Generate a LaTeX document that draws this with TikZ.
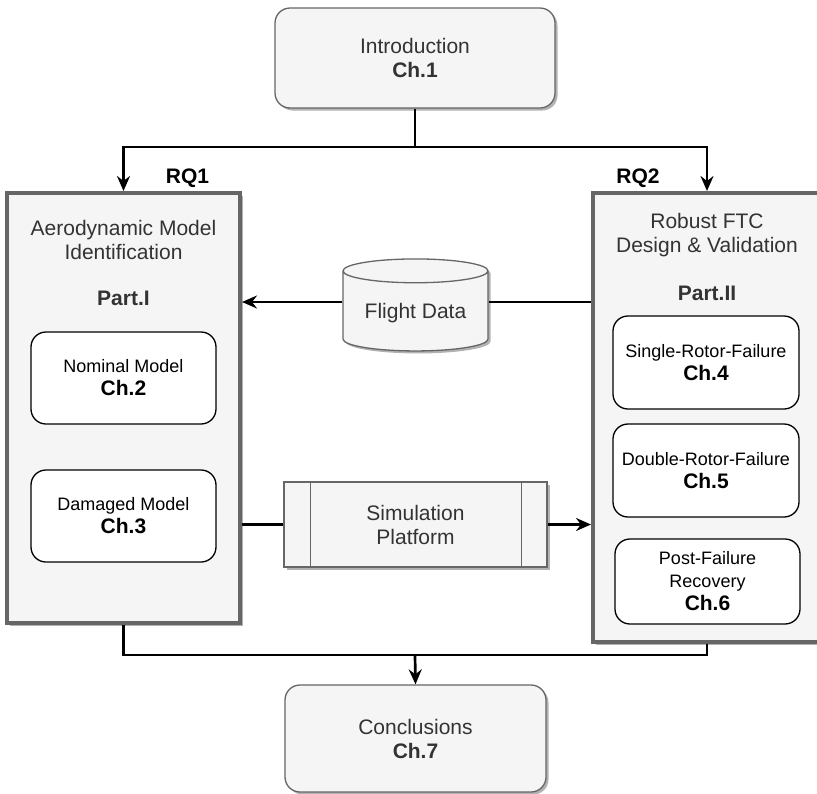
\documentclass[tikz,border=0pt]{standalone}
\usepackage{fontspec}
\setmainfont{Liberation Sans}
\usepackage{xcolor}
\usepackage{tikz}
\usetikzlibrary{shapes,shapes.geometric,arrows,arrows.meta,shadows}
\usetikzlibrary{calc}
\definecolor{boxfill}{HTML}{F5F5F5}
\definecolor{boxline}{HTML}{666666}
\definecolor{boxtext}{HTML}{333333}
\newcommand{\bigfont}{\fontsize{21}{24}\selectfont}
\newcommand{\smallfont}{\fontsize{18}{23}\selectfont}
\newcommand{\chapno}[1]{{\fontsize{21}{23}\selectfont\bfseries Ch.#1}}
\tikzset{
    boxshadow/.style={drop shadow={shadow xshift=2.5pt, shadow yshift=-2.5pt, opacity=0.3, fill=black}},
    chapbox/.style={draw=boxline, fill=boxfill, line width=1.3pt, rounded corners=15pt, align=center, text=boxtext, font=\bigfont, boxshadow},
    partbox/.style={draw=boxline, fill=boxfill, line width=4pt, boxshadow},
    subbox/.style={draw=black, fill=white, line width=1.3pt, rounded corners=15pt, align=center, font=\smallfont, minimum width=185pt},
    conn/.style={line width=2.7pt, black},
    arr/.style={conn, -{Stealth[length=15pt, width=13pt, inset=5pt]}},
    parttitle/.style={align=center, text=boxtext, font=\bigfont},
    rq/.style={fill=white, font=\bigfont\bfseries, inner sep=1.5pt}}

\begin{document}
\begin{tikzpicture}[x=1pt, y=-1pt]
\useasboundingbox (0,0) rectangle (817,793);
\clip (0,0) rectangle (817,793);

% chapters before and after
\node[chapbox, minimum width=280pt, minimum height=100pt] (intro) at (415,58) {Introduction\\\textbf{Ch.1}};
\node[chapbox, minimum width=261pt, minimum height=107pt] (concl) at (415.5,738.5) {Conclusions\\\textbf{Ch.7}};

% Part I
\node[partbox, minimum width=233pt, minimum height=430pt] (part1) at (123.5,408) {};
\node[parttitle] (part1title) at (123.5,240) {Aerodynamic Model\\Identification};
\node[parttitle, font=\bigfont\bfseries] (part1name) at (123.5,298) {Part.I};
\node[subbox, minimum height=92pt] (nominal) at (123.5,378) {Nominal Model\\\chapno{2}};
\node[subbox, minimum height=92pt] (damaged) at (123.5,516) {Damaged Model\\\chapno{3}};

% Part II (runs past the right edge)
\node[partbox, minimum width=260pt, minimum height=449pt] (part2) at (723,417.5) {};
\coordinate (p2axis) at (707,0);
\node[parttitle] (part2title) at (707,235) {Robust FTC\\Design \& Validation};
\node[parttitle, font=\bigfont\bfseries] (part2name) at (707,293) {Part.II};
\node[subbox, minimum width=186pt, minimum height=93pt] (single) at (706,362.5) {Single-Rotor-Failure\\\chapno{4}};
\node[subbox, minimum width=186pt, minimum height=93pt] (double) at (706,470.5) {Double-Rotor-Failure\\\chapno{5}};
\node[subbox, minimum height=85pt] (post) at (707.5,581.5) {Post-Failure\\Recovery\\\chapno{6}};

\node[rq] (rq1) at (187.5,178.5) {RQ1};
\node[rq] (rq2) at (638,178) {RQ2};

% data and simulation in between
\node[cylinder, shape border rotate=90, aspect=0.22, draw=boxline, fill=boxfill, line width=1.3pt,
      minimum width=145pt, minimum height=92pt, boxshadow, parttitle] (flight) at (415.5,313) {Flight Data};
\coordinate (fdlevel) at (0,302);
\node[draw=boxline, fill=boxfill, line width=1.3pt, minimum width=263pt, minimum height=85pt,
      boxshadow, parttitle] (sim) at (415.5,524.5) {Simulation\\Platform};
\draw[boxline, line width=1.3pt] ([xshift=27pt]sim.north west) -- ([xshift=27pt]sim.south west);
\draw[boxline, line width=1.3pt] ([xshift=-26pt]sim.north east) -- ([xshift=-26pt]sim.south east);

% connectors
\coordinate (split) at (415,147);
\coordinate (join) at (415,655);
\draw[conn] (intro.south) -- (split);
\draw[arr] (split) -| (part1.north);
\draw[arr] (split) -| (p2axis |- part2.north);
\draw[arr] (flight.west |- fdlevel) -- (fdlevel -| part1.east);
\draw[conn] (flight.east |- fdlevel) -- (fdlevel -| part2.west);
\draw[conn] (sim.west -| part1.east) -- (sim.west);
\draw[arr] (sim.east) -- (sim.east -| part2.west);
\draw[conn] (part1.south) |- (join);
\draw[conn] (p2axis |- part2.south) |- (join);
\draw[arr] (join) -- (concl.north);
\end{tikzpicture}
\end{document}
